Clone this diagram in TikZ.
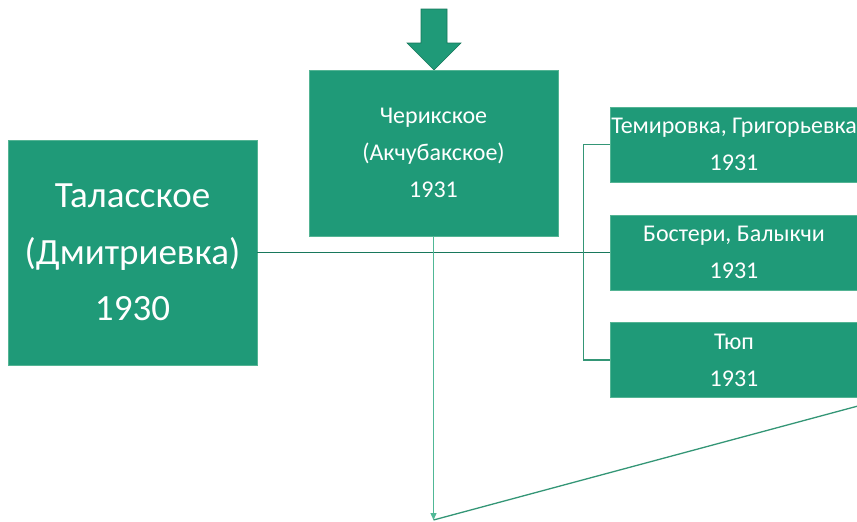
\documentclass[tikz,border=0pt]{standalone}
\usepackage{fontspec}
\setmainfont{Carlito}
\usetikzlibrary{arrows.meta}
\frenchspacing
\definecolor{boxgreen}{RGB}{31,154,120}
\definecolor{boxedge}{RGB}{84,180,148}
\definecolor{arrowedge}{RGB}{22,118,90}
\definecolor{linedark}{RGB}{24,120,92}
\definecolor{linemid}{RGB}{52,150,118}
\definecolor{linelight}{RGB}{80,184,150}
\tikzset{
	villagebox/.style={fill=boxgreen,draw=boxedge,line width=0.6pt,text=white,align=center,inner sep=0pt},
	bigtext/.style={font=\fontsize{37}{56.5}\selectfont},
	smalltext/.style={font=\fontsize{24}{37}\selectfont},
}
\newcommand{\Village}[3]{
	\node[villagebox,smalltext,minimum width=248pt,minimum height=75pt] (#1) at (734,#2) {#3\\1931};
}

\begin{document}
\begin{tikzpicture}[x=1pt,y=-1pt]
\useasboundingbox (0,0) rectangle (857,522);
%block arrow
\fill[boxgreen,draw=arrowedge,line width=0.6pt](421,9)--(447,9)--(447,43)--(461,43)--(434,70)--(407,43)--(421,43)--cycle;
%main boxes
\node[villagebox,bigtext,minimum width=249pt,minimum height=225pt] (talas) at (132.5,252.5) {Таласское\\(Дмитриевка)\\1930};
\node[villagebox,smalltext,minimum width=249pt,minimum height=166pt] (cherik) at (433.5,153) {Черикское\\(Акчубакское)\\1931};
%right boxes
\foreach \name/\y/\txt in {temir/144.5/{Темировка, Григорьевка},bost/252.5/{Бостери, Балыкчи},tyup/360/{Тюп}}{
	\Village{\name}{\y}{\txt}
}
%connectors
\coordinate (sink) at (433.5,520);
\coordinate (edge) at (858,406);
\draw[linedark,line width=1.4pt](talas.east)--(bost.west);
\draw[linemid,line width=1.2pt](temir.west)--++(-26,0)|-(tyup.west);
\draw[linelight,line width=1.3pt,-{Triangle[width=6pt,length=7pt]}](cherik.south)--(sink);
\draw[linemid,line width=1.3pt](edge)--(sink);
\end{tikzpicture}
\end{document}
